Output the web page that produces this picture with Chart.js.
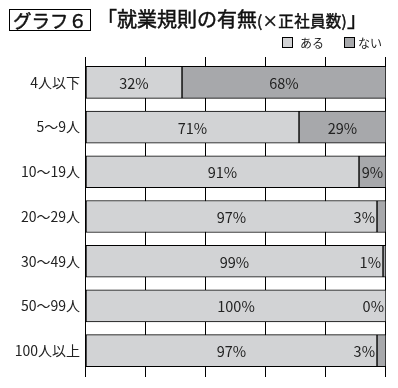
<!DOCTYPE html>
<html><head><meta charset="utf-8">
<script src="https://cdn.jsdelivr.net/npm/chart.js@4"></script>
<style>
html,body{margin:0;padding:0;background:#fff;}
#wrap{position:relative;width:398px;height:388px;}
canvas{position:absolute;left:0;top:0;}
#tbox{position:absolute;left:9px;top:9px;width:80px;height:20px;border:1px solid #000;font:normal 18.5px "Noto Sans CJK JP";-webkit-text-stroke:0.5px #111;line-height:20px;text-align:center;color:#111;}
#title{position:absolute;left:97px;top:6px;font:normal 20px "Noto Sans CJK JP";-webkit-text-stroke:0.5px #111;line-height:26px;color:#111;white-space:nowrap;}
#title small{font-size:15.5px;letter-spacing:0.3px;}
</style></head>
<body><div id="wrap">
<canvas id="c" width="398" height="388"></canvas>
<div id="tbox">グラフ６</div>
<div id="title">「就業規則の有無<small>(×正社員数)</small>」</div>
</div>
<script>
const categories = ["4人以下","5～9人","10～19人","20～29人","30～49人","50～99人","100人以上"];
const seriesNames = ["ある","ない"];
const aruValues = [32,71,91,97,99,100,97];
const naiValues = [68,29,9,3,1,0,3];
const xTicks = [0,20,40,60,80,100];
const colors = ["#d2d3d5","#a7a8ab"];

const gridPlugin = {
  id:'grid',
  beforeDatasetsDraw(chart){
    const ctx=chart.ctx, xs=chart.scales.x;
    ctx.save();ctx.strokeStyle='#000';ctx.lineWidth=1;
    xTicks.forEach(v=>{
      const x=Math.round(xs.getPixelForValue(v))-0.5;
      ctx.beginPath();ctx.moveTo(x,57);ctx.lineTo(x,377);ctx.stroke();
    });
    ctx.restore();
  }
};
const labelPlugin = {
  id:'labels',
  afterDatasetsDraw(chart){
    const ctx=chart.ctx;
    ctx.save();ctx.font='14.5px "Noto Sans CJK JP"';ctx.fillStyle='#222';ctx.textBaseline='middle';
    chart.data.datasets.forEach((ds,di)=>{
      const meta=chart.getDatasetMeta(di);
      meta.data.forEach((el,i)=>{
        const v=ds.data[i];
        const left=Math.min(el.x,el.base), right=Math.max(el.x,el.base);
        if(v<5){ctx.textAlign='right';ctx.fillText(v+'%',left-2,el.y+1);}
        else{ctx.textAlign='center';ctx.fillText(v+'%',(left+right)/2,el.y+1);}
      });
    });
    const lx=[282,344], tx=[300,358];
    ctx.font='12px "Noto Sans CJK JP"';ctx.textAlign='left';
    seriesNames.forEach((n,k)=>{
      ctx.fillStyle=colors[k];ctx.fillRect(lx[k],37,11,11);
      ctx.strokeStyle='#000';ctx.lineWidth=1;ctx.strokeRect(lx[k]+0.5,37.5,10,10);
      ctx.fillStyle='#222';ctx.fillText(n,tx[k],43);
    });
    ctx.restore();
  }
};

new Chart(document.getElementById('c'),{
  type:'bar',
  data:{labels:categories,datasets:[
    {label:seriesNames[0],data:aruValues,backgroundColor:colors[0],borderColor:'#000',borderWidth:1,borderSkipped:false,barThickness:32},
    {label:seriesNames[1],data:naiValues,backgroundColor:colors[1],borderColor:'#000',borderWidth:1,borderSkipped:false,barThickness:32}
  ]},
  options:{
    indexAxis:'y',responsive:false,animation:false,
    layout:{padding:{top:60,bottom:15,right:12,left:0}},
    plugins:{legend:{display:false},tooltip:{enabled:false},title:{display:false}},
    scales:{
      x:{stacked:true,min:0,max:100,ticks:{display:false,stepSize:20},grid:{display:false},border:{display:false},afterFit(s){s.height=0;}},
      y:{stacked:true,grid:{display:false,drawTicks:false},border:{display:false},
         ticks:{color:'#222',font:{family:'"Noto Sans CJK JP"',size:14},padding:6},
         afterFit(s){s.width=86;}}
    }
  },
  plugins:[gridPlugin,labelPlugin]
});
</script>
</body></html>
